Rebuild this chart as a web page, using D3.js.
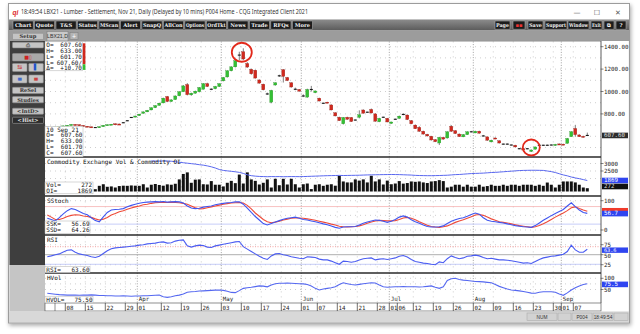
<!DOCTYPE html>
<html><head><meta charset="utf-8">
<script src="https://cdn.jsdelivr.net/npm/d3@7/dist/d3.min.js"></script>
<style>
html,body{margin:0;padding:0;background:#fff;}
svg{display:block;}
text{font-family:"DejaVu Sans Mono",monospace;}
</style></head><body>
<svg id="chart" width="640" height="334"></svg>
<script>
// ================= DATA =================
const firstDay = "2021-03-01", lastDay = "2021-09-10";
const holidays = ["2021-04-02","2021-05-31","2021-07-05","2021-09-06"];

const opens = [682,682,678,684,688,693,698,706,704,697,690,685,678,678,686,698,704,712,710,721,739,768,772,785,805,818,835,856,876,898,955,911,928,962,998,1062,970,985,998,1020,1070,1020,1025,1045,1095,1130,1185,1220,1325,1355,1250,1198,1190,1103,1065,978,905,1058,1140,1195,1125,1078,1020,1018,960,950,1018,990,940,895,905,880,810,770,712,770,768,745,770,835,815,840,800,730,770,760,715,752,760,795,790,740,700,680,645,618,600,570,540,590,585,690,650,620,595,615,640,630,645,603,595,550,585,560,530,530,522,520,489,490,489,465,485,520,520,520,522,518,532,530,537,597,670,612,600,607.6];
const highs = [684,683,686,690,695,700,708,708,705,698,692,686,680,688,700,706,710,715,713,725,742,772,784,800,822,835,858,878,900,945,960,930,965,1002,1058,1075,990,1008,1040,1075,1078,1028,1050,1072,1130,1190,1225,1280,1355,1386,1262,1205,1195,1108,1070,990,1015,1082,1150,1200,1130,1082,1035,1022,975,1025,1050,1008,945,900,908,885,815,775,772,775,772,750,832,840,820,848,805,765,775,764,730,758,785,805,795,745,705,690,650,622,604,575,595,596,645,700,655,625,620,645,648,650,650,612,598,570,590,564,535,536,526,524,494,494,494,482,508,525,524,526,527,532,535,534,585,645,700,618,605,633];
const lows = [680,676,677,683,687,692,697,702,695,688,683,676,674,677,685,697,703,706,704,718,735,763,770,783,803,816,833,852,874,895,905,908,926,958,995,965,962,980,992,1018,1040,1012,1020,1040,1090,1125,1180,1215,1281,1281,1212,1150,1115,1070,1010,970,895,1052,1130,1080,1093,1035,1012,1000,950,945,1000,985,912,890,895,832,778,738,705,748,728,740,760,803,810,805,730,726,765,725,712,748,757,788,745,708,665,640,615,598,562,548,522,570,580,640,620,594,592,612,635,628,624,598,560,546,575,536,526,526,518,502,485,474,484,460,482,515,515,516,518,515,526,524,535,595,598,594,590,601.7];
const closes = [682,678,684,688,693,698,706,704,697,690,685,678,678,686,698,704,708,708,706,721,739,768,781,798,818,832,855,874,896,940,911,925,960,998,1050,972,985,1003,1035,1070,1045,1020,1045,1070,1125,1185,1220,1275,1325,1290,1218,1158,1120,1075,1015,978,1010,1078,1140,1135,1098,1040,1020,1003,960,1018,1018,1005,915,895,898,835,782,740,768,752,732,745,792,806,815,808,735,760,770,728,728,752,780,795,750,712,668,645,620,603,567,552,590,575,640,645,625,598,615,640,640,645,628,603,565,565,578,540,530,530,522,505,489,478,489,478,505,520,520,520,522,528,528,527,580,641,615,597,596.9,607.6];

const volume = [null,null,null,null,null,null,null,null,null,null,null,null,
190,470,600,390,420,330,450,480,470,500,
480,470,600,330,560,620,540,480,590,560,
640,1000,1450,1580,720,980,1000,600,580,860,
560,560,420,720,880,690,1400,660,1580,1000,
880,580,720,1000,330,1050,520,1050,580,1050,
600,330,600,660,200,560,600,470,560,600,
480,1300,830,750,750,1000,900,1000,750,1300,
830,1000,580,900,600,660,860,650,700,830,
800,830,750,700,830,860,940,860,330,400,
560,560,400,560,400,400,560,400,450,560,
470,470,560,470,560,560,470,560,560,560,
470,560,470,740,560,330,560,830,830,830,
750,560,330,272];

const openInterest = [null,null,null,null,null,null,null,null,null,null,null,null,null,null,null,null,null,null,null,null,null,null,null,null,null,null,
3170,3165,3160,3170,3165,3150,3120,3080,3050,3020,
2990,2960,2920,2890,2840,2780,2700,2600,2540,2510,
2480,2450,2410,2340,2250,2190,2160,2140,2130,2120,
2130,2125,2130,2120,2125,2130,2128,2125,2130,2140,
2150,2160,2170,2180,2190,2195,2200,2210,2200,2205,
2210,2215,2220,2230,2240,2245,2250,2255,2260,2265,
2270,2265,2260,2250,2240,2230,2210,2200,2195,2190,
2190,2195,2200,2210,2220,2240,2260,2270,2290,2310,
2330,2340,2350,2360,2380,2400,2410,2430,2450,2470,
2490,2510,2530,2540,2545,2550,2550,2545,2540,2500,
2460,2400,2320,2240,2180,2100,2040,1990,1930,1869];

const ssk = [40,36,31,42,55,66,73,70,63,56,52,42,32,28,45,60,68,70,71,73,79,84,88,91,94,95,96,97,96,97,95,96,97,96,92,82,75,73,74,78,80,82,86,89,91,93,94,96,96,88,75,60,46,34,22,17,22,27,32,37,40,42,44,40,36,34,31,28,25,21,18,14,9,6,10,11,11,12,17,23,27,31,34,33,30,26,30,36,44,48,44,35,28,23,17,12,10,10,11,14,22,30,35,39,42,47,53,58,54,42,33,30,28,26,24,21,18,15,13,11,10,9,15,24,33,41,49,56,63,70,82,93,80,68,60,56.69];
const ssd = [51,44,36,36,40,46,50,52,51,48,46,43,38,34,37,43,51,56,62,66,71,75,79,82,86,88,91,93,94,94,94,95,94,93,91,88,82,76,72,73,76,79,82,85,88,90,92,93,94,92,84,72,58,47,36,28,25,27,30,34,37,40,41,41,40,38,36,33,30,27,24,20,17,13,11,10,11,12,14,18,23,27,31,33,32,31,31,32,36,41,43,40,35,28,22,16,12,10,9,11,14,20,26,31,35,40,45,51,53,50,44,38,33,28,26,24,21,18,15,13,11,9,11,15,21,28,36,44,51,58,66,76,79,73,68,64.26];
const rsi = [45,47,50,52,57,61,62,56,52,50,48,45,43,46,53,60,65,67,68,69,70,71,72,74,75,77,78,79,81,82,79,80,84,86,87,72,69,72,74,73,69,68,72,74,76,78,80,82,83,70,64,58,52,46,41,38,47,52,53,50,48,45,43,41,40,45,44,43,39,37,37,34,30,26,34,33,31,33,37,40,41,42,37,39,40,38,40,42,46,48,44,38,33,31,29,28,26,25,32,30,40,47,43,40,42,46,47,49,47,43,40,41,39,37,37,36,35,33,31,29,30,28,33,38,42,44,46,47,49,51,58,74,62,56,56,63.6];
const hvol = [33,31,29,27,26,25,25,25,24,25,25,26,25,23,23,22,22,21,21,22,21,20,21,21,22,22,23,24,25,18,15,18,22,25,30,38,40,41,43,44,45,46,47,48,46,42,37,36,45,55,58,60,63,66,65,62,70,76,78,78,79,78,77,76,75,72,66,55,48,52,55,58,62,72,80,76,72,70,73,76,78,80,79,70,62,60,61,62,62,63,62,62,62,61,62,64,66,60,55,62,90,98,100,95,92,90,88,86,85,84,82,80,72,64,58,52,48,46,44,41,38,34,33,38,40,40,40,38,30,24,35,48,58,66,72,75.5];

const tickDates = ["2021-03-08","2021-03-15","2021-03-22","2021-03-29","2021-04-01","2021-04-12","2021-04-19","2021-04-26","2021-05-03","2021-05-10","2021-05-17","2021-05-24","2021-06-01","2021-06-07","2021-06-14","2021-06-21","2021-06-28","2021-07-01","2021-07-06","2021-07-12","2021-07-19","2021-07-26","2021-08-02","2021-08-09","2021-08-16","2021-08-23","2021-08-30","2021-09-01","2021-09-07"];
const monthDates = ["2021-04-01","2021-05-03","2021-06-01","2021-07-01","2021-08-02","2021-09-01"];
const monthNames = ["Apr","May","Jun","Jul","Aug","Sep"];
const priceTicks = [1400,1200,1000,800];
const priceGrid = [1400,1300,1200,1100,1000,900,800,700,600,500];
const oiTicks = [3000,2500];
const stochTicks = [100,0];
const rsiTicks = [75,50,25];
const hvTicks = [100,50];
const circledDays = ["2021-05-10","2021-08-20"];

const titleText = "18:49:54  LBX21 - Lumber - Settlement, Nov 21, Daily (Delayed by 10 mins)  P004 Home - CQG Integrated Client 2021";
const toolbarLeft = ["Chart","Quote","T&S","Status","MScan","Alert","SnapQ","AllCon","Options","OrdTkt","News","Trade","RFQs","More"];
const toolbarRight = [["Page",495,15],["\u25AA\u25AA",513,12],["Save",528,15],["Support",545,22],["Window",568,21],["Exit",591,11],["\u29C9",604,10],["?",616,10]];

// ================= BUILD =================
const fmt = d3.timeFormat("%Y-%m-%d");
const parse = d3.timeParse("%Y-%m-%d");
const days = d3.timeDay.range(parse(firstDay), d3.timeDay.offset(parse(lastDay),1))
  .filter(d => d.getDay()!==0 && d.getDay()!==6 && !holidays.includes(fmt(d))).map(fmt);

const svg = d3.select("#chart");
const defs = svg.append("defs");
defs.append("filter").attr("id","shadow").attr("x","-3%").attr("y","-3%").attr("width","106%").attr("height","108%")
  .html('<feGaussianBlur in="SourceAlpha" stdDeviation="2.2"/><feOffset dx="1" dy="2"/><feComponentTransfer><feFuncA type="linear" slope="0.35"/></feComponentTransfer><feMerge><feMergeNode/><feMergeNode in="SourceGraphic"/></feMerge>');
const tg = defs.append("linearGradient").attr("id","tb").attr("x1",0).attr("y1",0).attr("x2",0).attr("y2",1);
tg.append("stop").attr("offset","0").attr("stop-color","#8c8c8c");
tg.append("stop").attr("offset","1").attr("stop-color","#5a5a5a");

const plotL = 45, plotR = 601;
const P = {main:[41.5,157],vol:[158,195.5],stoch:[197,234.5],rsi:[236,272.5],hv:[274,303]};
Object.entries(P).forEach(([k,[t,b]])=>{
  defs.append("clipPath").attr("id","clip-"+k).append("rect").attr("x",plotL).attr("y",t).attr("width",plotR-plotL).attr("height",b-t);
});

// window
svg.append("rect").attr("x",0).attr("y",0).attr("width",640).attr("height",334).attr("fill","#fff");
svg.append("rect").attr("x",8.5).attr("y",3.5).attr("width",621).attr("height",319.5)
  .attr("fill","#ececec").attr("stroke","#9c9c9c").attr("filter","url(#shadow)");
svg.append("rect").attr("x",9).attr("y",4).attr("width",620).attr("height",15.5).attr("fill","#fff");
svg.append("text").attr("x",12.5).attr("y",14.5).attr("fill","#d22").attr("font-size",6.5)
  .attr("font-weight","bold").attr("font-style","italic").style("font-family","Liberation Sans").text("qi");
svg.append("text").attr("x",21).attr("y",14.3).attr("fill","#333").attr("font-size",6.4)
  .style("font-family","Noto Sans").attr("textLength",287).attr("lengthAdjust","spacingAndGlyphs").text(titleText);
[["\u2014",577],["\u2610",597],["\u2715",618]].forEach(([s,x])=>{
  svg.append("text").attr("x",x).attr("y",14.5).attr("text-anchor","middle").attr("fill","#555")
    .attr("font-size",7).style("font-family","DejaVu Sans").text(s);
});

// toolbar
svg.append("rect").attr("x",9).attr("y",19.5).attr("width",620).attr("height",11).attr("fill","url(#tb)");
const tbx = d3.scaleBand().domain(toolbarLeft).range([13,312.5]).paddingInner(0.06);
function tbButton(l,x0,w){
  svg.append("rect").attr("x",x0).attr("y",21).attr("width",w).attr("height",8.2)
    .attr("fill","#1c1c1c").attr("stroke","#a8a8a8").attr("stroke-width",0.6);
  const t = svg.append("text").attr("x",x0+w/2).attr("y",27.3).attr("text-anchor","middle")
    .attr("fill", l.startsWith("\u25AA")?"#e33":"#f2f2f2").attr("font-size",5.2).attr("font-weight","bold")
    .style("font-family","DejaVu Serif").text(l);
  const tw = t.node().getComputedTextLength();
  if (tw > w-2) t.attr("textLength",w-2).attr("lengthAdjust","spacingAndGlyphs");
}
toolbarLeft.forEach(l=>tbButton(l,tbx(l),tbx.bandwidth()));
toolbarRight.forEach(([l,x,w])=>tbButton(l,x,w));

// tab row
svg.append("rect").attr("x",9).attr("y",30.5).attr("width",620).attr("height",10.5).attr("fill","#9c9c9c");
svg.append("rect").attr("x",47).attr("y",31.5).attr("width",21).attr("height",9.5).attr("fill","#c9c9c9").attr("stroke","#7a7a7a").attr("stroke-width",0.5);
svg.append("text").attr("x",57.5).attr("y",38.3).attr("text-anchor","middle").attr("font-size",5.2).attr("fill","#333").style("font-family","Liberation Sans").text("LBX21,D");
svg.append("rect").attr("x",70).attr("y",32.5).attr("width",8).attr("height",7).attr("fill","#b4b4b4").attr("stroke","#7a7a7a").attr("stroke-width",0.5);
svg.append("text").attr("x",74).attr("y",38.6).attr("text-anchor","middle").attr("font-size",7).attr("fill","#fff").style("font-family","Liberation Sans").text("+");

// left panel
svg.append("rect").attr("x",9.5).attr("y",41).attr("width",35.5).attr("height",224).attr("fill","#3e3e3e");
svg.append("rect").attr("x",9.5).attr("y",265).attr("width",35.5).attr("height",46.5).attr("fill","#c5c5c5");
function lbtn(x,y,w,h,label,opt={}){
  svg.append("rect").attr("x",x).attr("y",y).attr("width",w).attr("height",h).attr("rx",0.8)
    .attr("fill",opt.fill||"#c4c4c4").attr("stroke",opt.stroke||"#8d8d8d").attr("stroke-width",0.6);
  if(label){
    const t = svg.append("text").attr("x",x+w/2).attr("y",y+h/2+1.9).attr("text-anchor","middle")
      .attr("font-size",opt.fs||5.2).attr("font-weight","bold").attr("fill",opt.color||"#333")
      .style("font-family","DejaVu Serif").text(label);
    if (t.node().getComputedTextLength() > w-3) t.attr("textLength",w-3).attr("lengthAdjust","spacingAndGlyphs");
  }
}
lbtn(12.5,33.3,31,6.3,"Setup");
lbtn(12.5,42.3,31,5.6,"\u2399",{fs:5,color:"#444"});
lbtn(12.5,53.5,31,7.5,"\u25A0\u25AF",{fill:"#a9a9a9",color:"#c22",fs:5});
lbtn(12.5,63.5,14.5,8,"\u21C6",{color:"#c22",fs:6});
lbtn(28.8,63.5,14.5,8,"\u258C",{color:"#25c",fs:6});
lbtn(12.5,75,14.5,8,"\u2261",{color:"#25c",fs:6});
lbtn(28.8,75,14.5,8,"\u2261",{color:"#c22",fs:6});
lbtn(12.5,87.3,31,6.2,"ReSel");
lbtn(12.5,96.6,31,6.2,"Studies");
lbtn(12.5,108.2,31,6,"<IntD>");
lbtn(12.5,117.2,31,6.2,"<Hist>",{fill:"#2c2c2c",stroke:"#9a9a9a",color:"#e0e0e0"});

// chart area
svg.append("rect").attr("x",45).attr("y",41).attr("width",583.5).attr("height",270.5).attr("fill","#fff");

// scales
const x = d3.scaleBand().domain(days).range([45.3, 45.3 + 4*days.length]);
const cx = d => x(d) + 2;
const yMain = d3.scaleLinear().domain([400,1400]).range([158.7,46.7]);
const yVol = d3.scaleLinear().domain([0,2000]).range([191.5,167.3]);
const yOI = d3.scaleLinear().domain([1869,3000]).range([180.5,163.5]);
const yStoch = d3.scaleLinear().domain([0,100]).range([230,200.7]);
const yRSI = d3.scaleLinear().domain([25,75]).range([264.7,244.7]);
const yHV = d3.scaleLinear().domain([50,100]).range([289.5,278.3]);

// grids
const grid = svg.append("g");
function hgrid(vals, sc, panel){
  vals.forEach(v=>grid.append("line").attr("x1",plotL).attr("x2",plotR).attr("y1",sc(v)).attr("y2",sc(v))
    .attr("stroke","#a8a8a8").attr("stroke-width",0.7).attr("stroke-dasharray","0.8,4.2").attr("clip-path","url(#clip-"+panel+")"));
}
hgrid(priceGrid,yMain,"main");
hgrid([3000,2500,2000],yOI,"vol");
hgrid([100,50,0],yStoch,"stoch");
hgrid([75,25],yRSI,"rsi");
hgrid([100,75,50],yHV,"hv");
tickDates.filter(d=>!monthDates.includes(d)).forEach(d=>{
  grid.append("line").attr("x1",x(d)).attr("x2",x(d)).attr("y1",41.5).attr("y2",303)
    .attr("stroke","#a8a8a8").attr("stroke-width",0.7).attr("stroke-dasharray","0.8,4.2");
});
monthDates.forEach(d=>{
  grid.append("line").attr("x1",x(d)).attr("x2",x(d)).attr("y1",41.5).attr("y2",303)
    .attr("stroke","#8a8a8a").attr("stroke-width",0.8).attr("stroke-dasharray","1,1.6");
});

// reference lines
const refs = svg.append("g");
function ref(y,color,dash){
  refs.append("line").attr("x1",plotL).attr("x2",plotR).attr("y1",y).attr("y2",y).attr("stroke",color)
    .attr("stroke-width",0.8).attr("stroke-dasharray",dash||null);
}
ref(yStoch(80),"#f6b3b3");
ref(yStoch(20),"#b9c0f6");
ref(yRSI(70),"#f08a8a","1,1.5");
ref(yRSI(50),"#9a9a9a");
ref(yRSI(26),"#b9c0f6");

// candles
const cg = svg.append("g").attr("clip-path","url(#clip-main)");
days.forEach((d,i)=>{
  const o=opens[i],h=highs[i],l=lows[i],c=closes[i];
  const col = c>o ? "#34c034" : (c<o ? "#d0291e" : "#1a1a1a");
  cg.append("line").attr("x1",cx(d)).attr("x2",cx(d)).attr("y1",yMain(h)).attr("y2",yMain(l))
    .attr("stroke","#707070").attr("stroke-width",0.9);
  const top = yMain(Math.max(o,c)), ht = Math.max(1.1, Math.abs(yMain(o)-yMain(c)));
  cg.append("rect").attr("x",x(d)+0.5).attr("y",c===o?top-0.55:top).attr("width",3).attr("height",ht)
    .attr("fill",col).attr("stroke", c>o?"#1f8a1f":(c<o?"#8e1a12":"none")).attr("stroke-width",0.3);
});

// volume & OI
const vg = svg.append("g").attr("clip-path","url(#clip-vol)");
days.forEach((d,i)=>{
  if(volume[i]==null) return;
  vg.append("rect").attr("x",x(d)+0.5).attr("y",yVol(volume[i])).attr("width",3)
    .attr("height",yVol(0)-yVol(volume[i])).attr("fill","#111");
});
const lineOf = (arr, ys) => d3.line().defined((v,i)=>arr[i]!=null).x((v,i)=>cx(days[i])).y(v=>ys(v))(arr);
vg.append("path").attr("d",lineOf(openInterest,yOI)).attr("fill","none").attr("stroke","#5a68ee").attr("stroke-width",1);

// stochastics
const sg = svg.append("g").attr("clip-path","url(#clip-stoch)");
sg.append("path").attr("d",lineOf(ssd,yStoch)).attr("fill","none").attr("stroke","#ee4a38").attr("stroke-width",1.1);
sg.append("path").attr("d",lineOf(ssk,yStoch)).attr("fill","none").attr("stroke","#3f55ef").attr("stroke-width",1.1);
// rsi
svg.append("g").attr("clip-path","url(#clip-rsi)").append("path").attr("d",lineOf(rsi,yRSI))
  .attr("fill","none").attr("stroke","#4a5cf2").attr("stroke-width",1.1);
// hvol
svg.append("g").attr("clip-path","url(#clip-hv)").append("path").attr("d",lineOf(hvol,yHV))
  .attr("fill","none").attr("stroke","#5568f0").attr("stroke-width",1.1);

// separators
[157,196,235,273].forEach(y=>{
  svg.append("line").attr("x1",plotL).attr("x2",plotR).attr("y1",y).attr("y2",y).attr("stroke","#2a2a2a").attr("stroke-width",1.6);
});
svg.append("line").attr("x1",plotL).attr("x2",plotR).attr("y1",41.3).attr("y2",41.3).attr("stroke","#888").attr("stroke-width",0.6);

// circles
const pk = days.indexOf(circledDays[0]), lw = days.indexOf(circledDays[1]);
svg.append("ellipse").attr("cx",cx(days[pk])-1.5).attr("cy",yMain(highs[pk])+4).attr("rx",10).attr("ry",9.5)
  .attr("fill","none").attr("stroke","#e2291b").attr("stroke-width",1.8);
svg.append("ellipse").attr("cx",cx(days[lw])).attr("cy",yMain(lows[lw])-4.5).attr("rx",8.5).attr("ry",8)
  .attr("fill","none").attr("stroke","#e2291b").attr("stroke-width",1.8);

// right axis
svg.append("line").attr("x1",plotR).attr("x2",plotR).attr("y1",41).attr("y2",303).attr("stroke","#333").attr("stroke-width",0.8);
const ax = svg.append("g").attr("font-size",5.8).attr("fill","#222");
function rlabels(vals, sc, f, nudge){
  vals.forEach(v=>{
    ax.append("line").attr("x1",plotR).attr("x2",plotR+2.5).attr("y1",sc(v)).attr("y2",sc(v)).attr("stroke","#333").attr("stroke-width",0.6);
    ax.append("text").attr("x",plotR+3).attr("y",sc(v)+2+((nudge&&nudge[v])||0)).text(f(v));
  });
}
rlabels(priceTicks,yMain,d3.format(".2f"));
rlabels(oiTicks,yOI,d=>d);
rlabels(stochTicks,yStoch,d=>d);
rlabels(rsiTicks,yRSI,d=>d,{50:1.4});
rlabels(hvTicks,yHV,d=>d);
function hbox(y,fill,txt,tc,h,fs){
  h = h||5.6;
  ax.append("rect").attr("x",plotR+1).attr("y",y-h/2).attr("width",26).attr("height",h).attr("fill",fill);
  if (txt!==null) ax.append("text").attr("x",plotR+3).attr("y",y+1.9).attr("font-size",fs||5.8).attr("fill",tc||"#fff").text(txt);
}
const L = days.length-1;
hbox(yMain(closes[L]),"#2d2d2d",d3.format(".2f")(closes[L]),"#ddd");
hbox(yOI(openInterest[L]),"#2f45f0",openInterest[L]);
hbox(yOI(openInterest[L])+6,"#111",volume[L],"#ddd");
hbox(yStoch(ssd[L])-1.2,"#f03a2a",null,null,4);
hbox(yStoch(ssk[L])+0.2,"#2f45f0",d3.format(".1f")(ssk[L]));
hbox(yRSI(rsi[L])+0.9,"#2f45f0",d3.format(".1f")(rsi[L]),null,5.4,5.2);
hbox(yHV(hvol[L])+0.6,"#2f45f0",d3.format(".1f")(hvol[L]));

// x axis strip
svg.append("rect").attr("x",45).attr("y",303).attr("width",556).attr("height",8).attr("fill","#fff").attr("stroke","#444").attr("stroke-width",0.6);
svg.append("line").attr("x1",55).attr("x2",55).attr("y1",303).attr("y2",311).attr("stroke","#444").attr("stroke-width",0.6);
const xa = svg.append("g").attr("font-size",5.8).attr("fill","#222");
tickDates.forEach(d=>{
  xa.append("line").attr("x1",x(d)).attr("x2",x(d)).attr("y1",303).attr("y2",311).attr("stroke","#333").attr("stroke-width",0.7);
  xa.append("text").attr("x",x(d)+1.3).attr("y",309.6).text(d3.timeFormat("%d")(parse(d)));
});
monthDates.forEach((d,i)=>{
  xa.append("text").attr("x",x(d)+1.5).attr("y",301.2).text(monthNames[i]);
});

// info boxes
const ib = svg.append("g").attr("font-size",6).attr("fill","#111");
function infoBox(bx,by,bw,bh,rows,rowH,valX,first){
  ib.append("rect").attr("x",bx).attr("y",by).attr("width",bw).attr("height",bh).attr("fill","#fff").attr("stroke","#b0b0b0").attr("stroke-width",0.5);
  rows.forEach((r,k)=>{
    const yy = by + first + k*rowH;
    ib.append("text").attr("x",bx+1.3).attr("y",yy).text(r[0]);
    if(r[1]!==undefined) ib.append("text").attr("x",valX).attr("y",yy).attr("text-anchor","end").text(r[1]);
  });
}
const f2 = d3.format(".2f");
infoBox(45,41.8,37.5,29,[["O=",f2(opens[L])],["H=",f2(highs[L])],["L=",f2(lows[L])],["L=",f2(closes[L])+"/"],["\u0394=","+"+f2(closes[L]-closes[L-1])]],5.8,82,5.3);
svg.append("rect").attr("x",82.8).attr("y",43.3).attr("width",2.6).attr("height",21).attr("fill","#d0291e");
svg.append("rect").attr("x",82.8).attr("y",64.3).attr("width",2.6).attr("height",5.6).attr("fill","#34c034");
infoBox(45,126.3,38,30.5,[[d3.timeFormat("%d %b %y")(parse(days[L]))],["O=",f2(opens[L])],["H=",f2(highs[L])],["L=",f2(lows[L])],["C=",f2(closes[L])]],5.9,82.5,5.2);
svg.append("text").attr("x",47).attr("y",163.7).attr("font-size",6).attr("fill","#111").text("Commodity Exchange Vol & Commodity OI");
infoBox(45,182,48,11.8,[["Vol=",volume[L]],["OI=",openInterest[L]]],5.5,92,5);
svg.append("text").attr("x",47).attr("y",202.5).attr("font-size",6).attr("fill","#111").text("SStoch");
infoBox(45,221,45,12.5,[["SSK=",f2(ssk[L])],["SSD=",f2(ssd[L])]],5.6,89.5,5.1);
svg.append("text").attr("x",47).attr("y",241.5).attr("font-size",6).attr("fill","#111").text("RSI");
infoBox(45,266.3,45,6.3,[["RSI=",f2(rsi[L])]],5.6,89.5,5.2);
svg.append("text").attr("x",47).attr("y",279.8).attr("font-size",6).attr("fill","#111").text("HVol");
infoBox(45,296.2,48,6.5,[["HVOL=",f2(hvol[L])]],5.6,92.5,5.3);

// status bar
svg.append("rect").attr("x",9).attr("y",311.5).attr("width",620).attr("height",10.5).attr("fill","#d8d8d8");
[[527,30,"NUM"],[558,13,""],[572,20,"P004"],[593,20,"18:49:54"],[614,14,""]].forEach(([bx,bw,t])=>{
  svg.append("rect").attr("x",bx).attr("y",313).attr("width",bw).attr("height",7.5).attr("fill","#d2d2d2").attr("stroke","#a5a5a5").attr("stroke-width",0.5);
  if(t) svg.append("text").attr("x",bx+bw/2).attr("y",318.6).attr("text-anchor","middle").attr("font-size",4.8)
    .attr("fill","#333").style("font-family","Liberation Sans").text(t);
});
</script>
</body></html>
